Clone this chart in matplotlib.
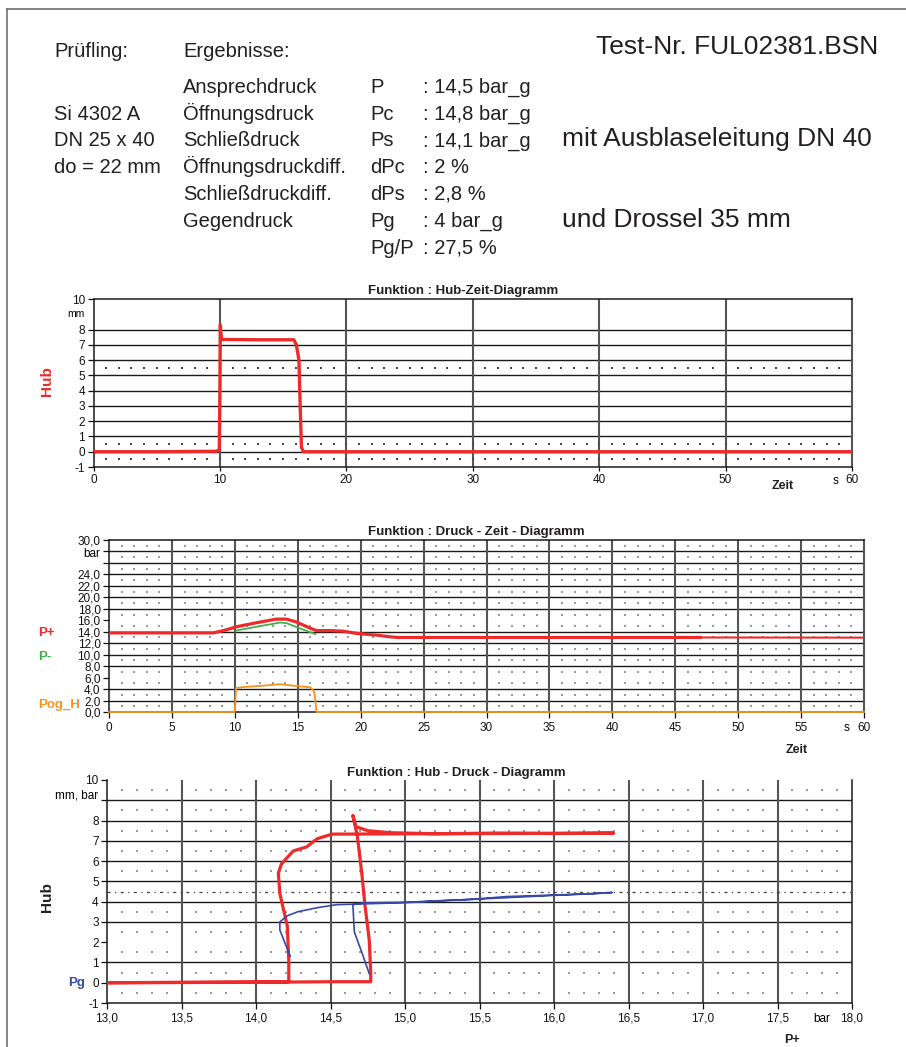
import matplotlib
matplotlib.use("Agg")
import matplotlib.pyplot as plt
import numpy as np
from matplotlib.lines import Line2D

plt.rcParams['font.family'] = ['Liberation Sans', 'DejaVu Sans']
plt.rcParams['axes.unicode_minus'] = False

W, H = 906, 1047

# ---- header text ----
pruefling = ["Si 4302 A", "DN 25 x 40", "do = 22 mm"]
ergebnis_namen = ["Ansprechdruck", "Öffnungsdruck", "Schließdruck", "Öffnungsdruckdiff.",
                  "Schließdruckdiff.", "Gegendruck", ""]
ergebnis_kurz = ["P", "Pc", "Ps", "dPc", "dPs", "Pg", "Pg/P"]
ergebnis_werte = [": 14,5 bar_g", ": 14,8 bar_g", ": 14,1 bar_g", ": 2 %", ": 2,8 %",
                  ": 4 bar_g", ": 27,5 %"]
test_nr = "Test-Nr. FUL02381.BSN"
bemerkung = ["mit Ausblaseleitung DN 40", "und Drossel 35 mm"]

# ---- Hub-Zeit (s, mm) ----
hz_t = [0, 5.0, 9.7, 9.95, 10.0, 10.03, 10.12, 13.0, 15.85, 16.05, 16.25, 16.35, 16.45, 16.6, 30, 60]
hz_hub = [0, 0.0, 0.03, 0.1, 4.0, 8.3, 7.35, 7.33, 7.33, 7.0, 6.0, 3.0, 0.3, 0.0, 0.0, 0.0]

# ---- Druck-Zeit (s, bar) ----
dz_t_pplus = [0, 8.3, 9.1, 10.2, 11.8, 13.3, 14.1, 14.9, 16.0, 16.5, 17.6, 18.6, 19.7, 21.3, 22.4, 23.0, 47.0]
dz_pplus = [13.8, 13.8, 14.2, 14.9, 15.6, 16.2, 16.2, 15.7, 14.6, 14.2, 14.2, 14.1, 13.7, 13.4, 13.1, 13.0, 13.0]
dz_t_pplus_rest = [47.0, 60.0]
dz_pplus_rest = [13.0, 12.97]
dz_t_pminus = [10.1, 11.8, 13.6, 14.1, 15.4, 16.4]
dz_pminus = [14.2, 14.9, 15.6, 15.5, 14.4, 13.6]
dz_t_pog = [0, 10.0, 10.1, 10.7, 12.3, 13.6, 14.6, 16.0, 16.3, 16.5, 60]
dz_pog = [0, 0, 4.2, 4.35, 4.6, 4.85, 4.6, 4.3, 3.6, 0, 0]

# ---- Hub-Druck (bar, mm / bar) ----
hd_p = [13.0, 14.0, 14.5, 14.77, 14.77, 14.76, 14.73, 14.71, 14.68, 14.65, 14.67, 14.75, 14.9,
        15.2, 15.6, 16.0, 16.4, 14.51, 14.41, 14.34, 14.25, 14.20, 14.17, 14.15, 14.16, 14.21,
        14.22, 14.22, 13.0]
hd_hub = [0.0, 0.02, 0.05, 0.05, 0.5, 2.1, 3.9, 5.4, 7.25, 8.25, 7.7, 7.5, 7.4,
          7.35, 7.38, 7.36, 7.38, 7.33, 7.1, 6.7, 6.5, 6.1, 5.85, 5.4, 4.4, 2.8,
          1.1, 0.05, 0.0]
hd_p_pg = [14.76, 14.71, 14.66, 14.65, 14.72, 15.01, 15.24, 15.46, 15.68, 16.02, 16.25, 16.39,
           15.0, 14.54, 14.41, 14.28, 14.21, 14.16, 14.16, 14.23]
hd_pg = [0.45, 1.5, 2.5, 3.85, 3.94, 3.97, 4.05, 4.12, 4.25, 4.33, 4.38, 4.45,
         3.95, 3.85, 3.7, 3.5, 3.3, 3.0, 2.6, 1.3]

RED = '#ee2a2a'
GREEN = '#3bb34a'
ORANGE = '#f7941d'
BLUE = '#3848a8'
TXT = '#231f20'
VGRID = '#555555'


def fx(x):
    return x / W


def fy(y):
    return 1 - y / H


def comma(v, nd=1):
    return f"{v:.{nd}f}".replace('.', ',')


fig = plt.figure(figsize=(W / 100, H / 100), dpi=100)

# page border (left and top)
fig.add_artist(Line2D([fx(7), fx(7)], [fy(9), 0], color='#707070', lw=1.2))
fig.add_artist(Line2D([fx(7), 1], [fy(9), fy(9)], color='#707070', lw=1.2))

# header
small, big = 14.5, 19
fig.text(fx(54), fy(57.3), "Prüfling:", fontsize=small, va='baseline', color=TXT)
fig.text(fx(183), fy(57.3), "Ergebnisse:", fontsize=small, va='baseline', color=TXT)
fig.text(fx(878), fy(54.3), test_nr, fontsize=big, ha='right', va='baseline', color=TXT)
rows = [92.7 + 26.8 * i for i in range(7)]
for i in range(7):
    fig.text(fx(183), fy(rows[i]), ergebnis_namen[i], fontsize=small, va='baseline', color=TXT)
    fig.text(fx(370), fy(rows[i]), ergebnis_kurz[i], fontsize=small, va='baseline', color=TXT)
    fig.text(fx(423), fy(rows[i]), ergebnis_werte[i], fontsize=small, va='baseline', color=TXT)
for i, s in enumerate(pruefling):
    fig.text(fx(54), fy(rows[i + 1]), s, fontsize=small, va='baseline', color=TXT)
fig.text(fx(562), fy(rows[2]), bemerkung[0], fontsize=big, va='baseline', color=TXT)
fig.text(fx(562), fy(rows[5]), bemerkung[1], fontsize=big, va='baseline', color=TXT)


def style_axes(ax):
    for s in ax.spines.values():
        s.set_color('#1a1a1a')
        s.set_linewidth(1.1)
    ax.tick_params(labelsize=8.5, colors='#111111', length=4, width=0.9, pad=2)
    ax.set_facecolor('white')


# ================= Chart 1: Hub-Zeit =================
ax1 = fig.add_axes([fx(93.5), fy(467), fx(852) - fx(93.5), (467 - 299) / H])
ax1.set_xlim(0, 60)
ax1.set_ylim(-1, 10)
style_axes(ax1)
ax1.spines['right'].set_color(VGRID)
ax1.spines['right'].set_linewidth(1.5)
for y in range(0, 9):
    ax1.axhline(y, color='#1a1a1a', lw=1.0, zorder=1)
for x in range(10, 60, 10):
    ax1.axvline(x, color=VGRID, lw=1.5, zorder=1)
dx, dy = np.meshgrid(np.arange(1, 60, 1), [5.5, 0.5, -0.5])
ax1.scatter(dx.ravel(), dy.ravel(), s=1.6, marker='s', color='#444444', lw=0, zorder=1)
ax1.plot(hz_t, hz_hub, color=RED, lw=2.4, zorder=3, solid_joinstyle='round')
ax1.set_yticks([-1, 0, 1, 2, 3, 4, 5, 6, 7, 8, 10])
ax1.set_xticks(range(0, 61, 10))
ax1.tick_params(axis='x', length=3, pad=2)
ax1.text(-0.012, 9, "mm", transform=ax1.get_yaxis_transform(), ha='right', va='center', fontsize=7.5)
ax1.text(58.7, -0.045, "s", transform=ax1.get_xaxis_transform(), ha='center', va='top', fontsize=8.5)
fig.text(fx(463), fy(291), "Funktion : Hub-Zeit-Diagramm", fontsize=9.5, fontweight='bold',
         ha='center', va='center', color=TXT)
fig.text(fx(783), fy(486), "Zeit", fontsize=9, fontweight='bold', ha='center', va='center', color=TXT)
fig.text(fx(47), fy(381), "Hub", fontsize=11, fontweight='bold', color=RED, rotation=90,
         ha='center', va='center')

# ================= Chart 2: Druck-Zeit =================
ax2 = fig.add_axes([fx(109), fy(712), (864 - 109) / W, 172 / H])
ax2.set_xlim(0, 60)
ax2.set_ylim(0, 30)
style_axes(ax2)
ax2.spines['right'].set_color(VGRID)
ax2.spines['right'].set_linewidth(1.5)
for y in [2, 4, 8, 10, 12, 14, 18, 20, 22, 24, 26, 28]:
    ax2.axhline(y, color='#1a1a1a', lw=1.0, zorder=1)
for x in range(5, 60, 5):
    ax2.axvline(x, color=VGRID, lw=1.5, zorder=1)
gx = [v for v in range(1, 60) if v % 5]
dx, dy = np.meshgrid(gx, np.arange(1, 30, 2))
ax2.scatter(dx.ravel(), dy.ravel(), s=1.4, marker='s', color='#9a9a9a', lw=0, zorder=1)
ax2.plot(dz_t_pplus, dz_pplus, color=RED, lw=2.3, zorder=4, solid_joinstyle='round')
ax2.plot(dz_t_pplus_rest, dz_pplus_rest, color=RED, lw=1.5, zorder=4)
ax2.plot(dz_t_pminus, dz_pminus, color=GREEN, lw=1.3, zorder=5)
ax2.plot(dz_t_pog, dz_pog, color=ORANGE, lw=1.3, zorder=5, clip_on=False)
yt = list(range(0, 31, 2))
ax2.set_yticks(yt)
ax2.set_yticklabels(["" if v in (26, 28) else comma(v) for v in yt])
ax2.set_xticks(range(0, 61, 5))
ax2.tick_params(axis='x', length=4, pad=3)
ax2.text(-0.012, 27.5, "bar", transform=ax2.get_yaxis_transform(), ha='right', va='center', fontsize=8.5)
ax2.text(58.6, -0.057, "s", transform=ax2.get_xaxis_transform(), ha='center', va='top', fontsize=8.5)
fig.text(fx(476), fy(532), "Funktion : Druck - Zeit - Diagramm", fontsize=9.5, fontweight='bold',
         ha='center', va='center', color=TXT)
fig.text(fx(797), fy(750), "Zeit", fontsize=9, fontweight='bold', ha='center', va='center', color=TXT)
fig.text(fx(38), fy(633), "P+", fontsize=9.5, fontweight='bold', color=RED, ha='left', va='center')
fig.text(fx(38), fy(657), "P-", fontsize=9.5, fontweight='bold', color=GREEN, ha='left', va='center')
fig.text(fx(38), fy(705), "Pog_H", fontsize=9.5, fontweight='bold', color=ORANGE, ha='left', va='center')

# ================= Chart 3: Hub-Druck =================
ax3 = fig.add_axes([fx(107), fy(1003), 745 / W, 223 / H])
ax3.set_xlim(13, 18)
ax3.set_ylim(-1, 10)
style_axes(ax3)
ax3.spines['top'].set_visible(False)
for y in [1, 3, 4, 5, 6, 7, 8, 9]:
    ax3.axhline(y, color='#1a1a1a', lw=1.0, zorder=1)
for x in np.arange(13.5, 18.0, 0.5):
    ax3.axvline(x, color=VGRID, lw=1.5, zorder=1)
gx = [13 + i / 10 for i in range(1, 50) if i % 5]
gy = [v + 0.5 for v in range(-1, 10) if v != 4]
dx, dy = np.meshgrid(gx, gy)
ax3.scatter(dx.ravel(), dy.ravel(), s=1.4, marker='s', color='#9a9a9a', lw=0, zorder=1)
ax3.axhline(4.5, color='#444444', lw=0.9, ls=(0, (2.5, 3.5, 1, 3.5)), zorder=1)
ax3.plot(hd_p, hd_hub, color=RED, lw=2.3, zorder=4, solid_joinstyle='round')
ax3.plot(hd_p_pg, hd_pg, color=BLUE, lw=1.2, zorder=5)
yt = [-1, 0, 1, 2, 3, 4, 5, 6, 7, 8, 9, 10]
ax3.set_yticks(yt)
ax3.set_yticklabels(["" if v == 9 else str(v) for v in yt])
xt = np.arange(13.0, 18.01, 0.5)
ax3.set_xticks(xt)
ax3.set_xticklabels([comma(v) for v in xt])
ax3.tick_params(axis='x', length=4, pad=3)
ax3.text(-0.012, 9.25, "mm, bar", transform=ax3.get_yaxis_transform(), ha='right', va='center', fontsize=8.5)
ax3.text(17.8, -0.044, "bar", transform=ax3.get_xaxis_transform(), ha='center', va='top', fontsize=8.5)
fig.text(fx(456), fy(773), "Funktion : Hub - Druck - Diagramm", fontsize=9.5, fontweight='bold',
         ha='center', va='center', color=TXT)
fig.text(fx(792), fy(1040), "P+", fontsize=9, fontweight='bold', ha='center', va='center', color=TXT)
fig.text(fx(47), fy(897), "Hub", fontsize=11, fontweight='bold', color=TXT, rotation=90,
         ha='center', va='center')
fig.text(fx(68), fy(983), "Pg", fontsize=9.5, fontweight='bold', color=BLUE, ha='left', va='center')

fig.savefig("out.png", dpi=100, facecolor='white')
